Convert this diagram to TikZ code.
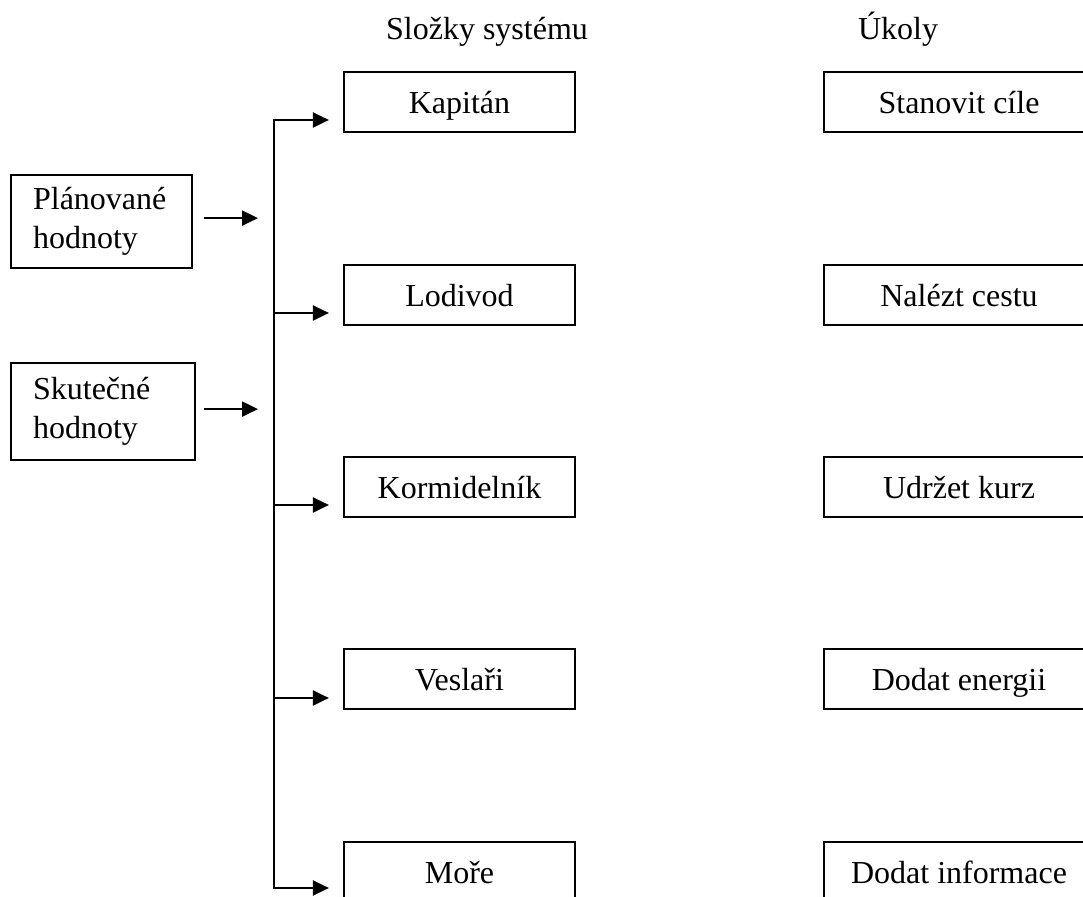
\documentclass[tikz,border=0pt]{standalone}
\usepackage{fontspec}
\setmainfont{Liberation Serif}
\usetikzlibrary{arrows.meta}
\begin{document}
\begin{tikzpicture}[x=0.5pt,y=-0.5pt,
  every node/.style={font=\fontsize{16}{19.5}\selectfont},
  box/.style={draw, line width=1.1pt, minimum width=115.5pt, minimum height=30pt,
    inner sep=0pt, text height=15pt, text depth=3.5pt},
  task/.style={box, minimum width=135pt},
  inbox/.style={draw, line width=1.1pt, align=left, inner xsep=11pt, inner ysep=0pt,
    anchor=north west},
  arr/.style={line width=1.1pt, -{Triangle[length=8pt,width=7.5pt]}},
  bus/.style={line width=1.1pt, line cap=rect}]
\useasboundingbox (0,0) rectangle (1083,897);
\clip (0,0) rectangle (1083,897);

% column headings
\node[anchor=base] (hcomp) at (487,40) {Složky systému};
\node[anchor=base] (htask) at (898,40) {Úkoly};

% inputs
\node[inbox, minimum width=90.5pt, minimum height=46.5pt, text width=68.5pt]
  (plan) at (10,174) {Plánované\\hodnoty};
\node[inbox, minimum width=92pt, minimum height=48.5pt, text width=70pt]
  (real) at (10,362) {Skutečné\\hodnoty};

% system components
\node[box] (kap) at (459.5,102) {Kapitán};
\node[box] (lod) at (459.5,295) {Lodivod};
\node[box] (kor) at (459.5,487) {Kormidelník};
\node[box] (ves) at (459.5,679) {Veslaři};
\node[box] (more) at (459.5,872) {Moře};

% tasks
\node[task] (t1) at (959,102) {Stanovit cíle};
\node[task] (t2) at (959,295) {Nalézt cestu};
\node[task] (t3) at (959,487) {Udržet kurz};
\node[task] (t4) at (959,679) {Dodat energii};
\node[task] (t5) at (959,872) {Dodat informace};

% distribution line
\coordinate (j1) at (274,120);
\coordinate (j2) at (274,313);
\coordinate (j3) at (274,505);
\coordinate (j4) at (274,698);
\coordinate (j5) at (274,888);
\draw[bus] (j1) -- (j5);

\draw[arr, shorten >=7pt] (j1) -- (kap.west |- j1);
\draw[arr, shorten >=7pt] (j2) -- (lod.west |- j2);
\draw[arr, shorten >=7pt] (j3) -- (kor.west |- j3);
\draw[arr, shorten >=7pt] (j4) -- (ves.west |- j4);
\draw[arr, shorten >=7pt] (j5) -- (more.west |- j5);

% inputs into the line
\coordinate (p1) at ([yshift=1.75pt]plan.east);
\coordinate (p2) at ([yshift=1.25pt]real.east);
\draw[arr, shorten <=5.5pt, shorten >=8pt] (p1) -- (j1 |- p1);
\draw[arr, shorten <=4pt, shorten >=8pt] (p2) -- (j1 |- p2);
\end{tikzpicture}
\end{document}
